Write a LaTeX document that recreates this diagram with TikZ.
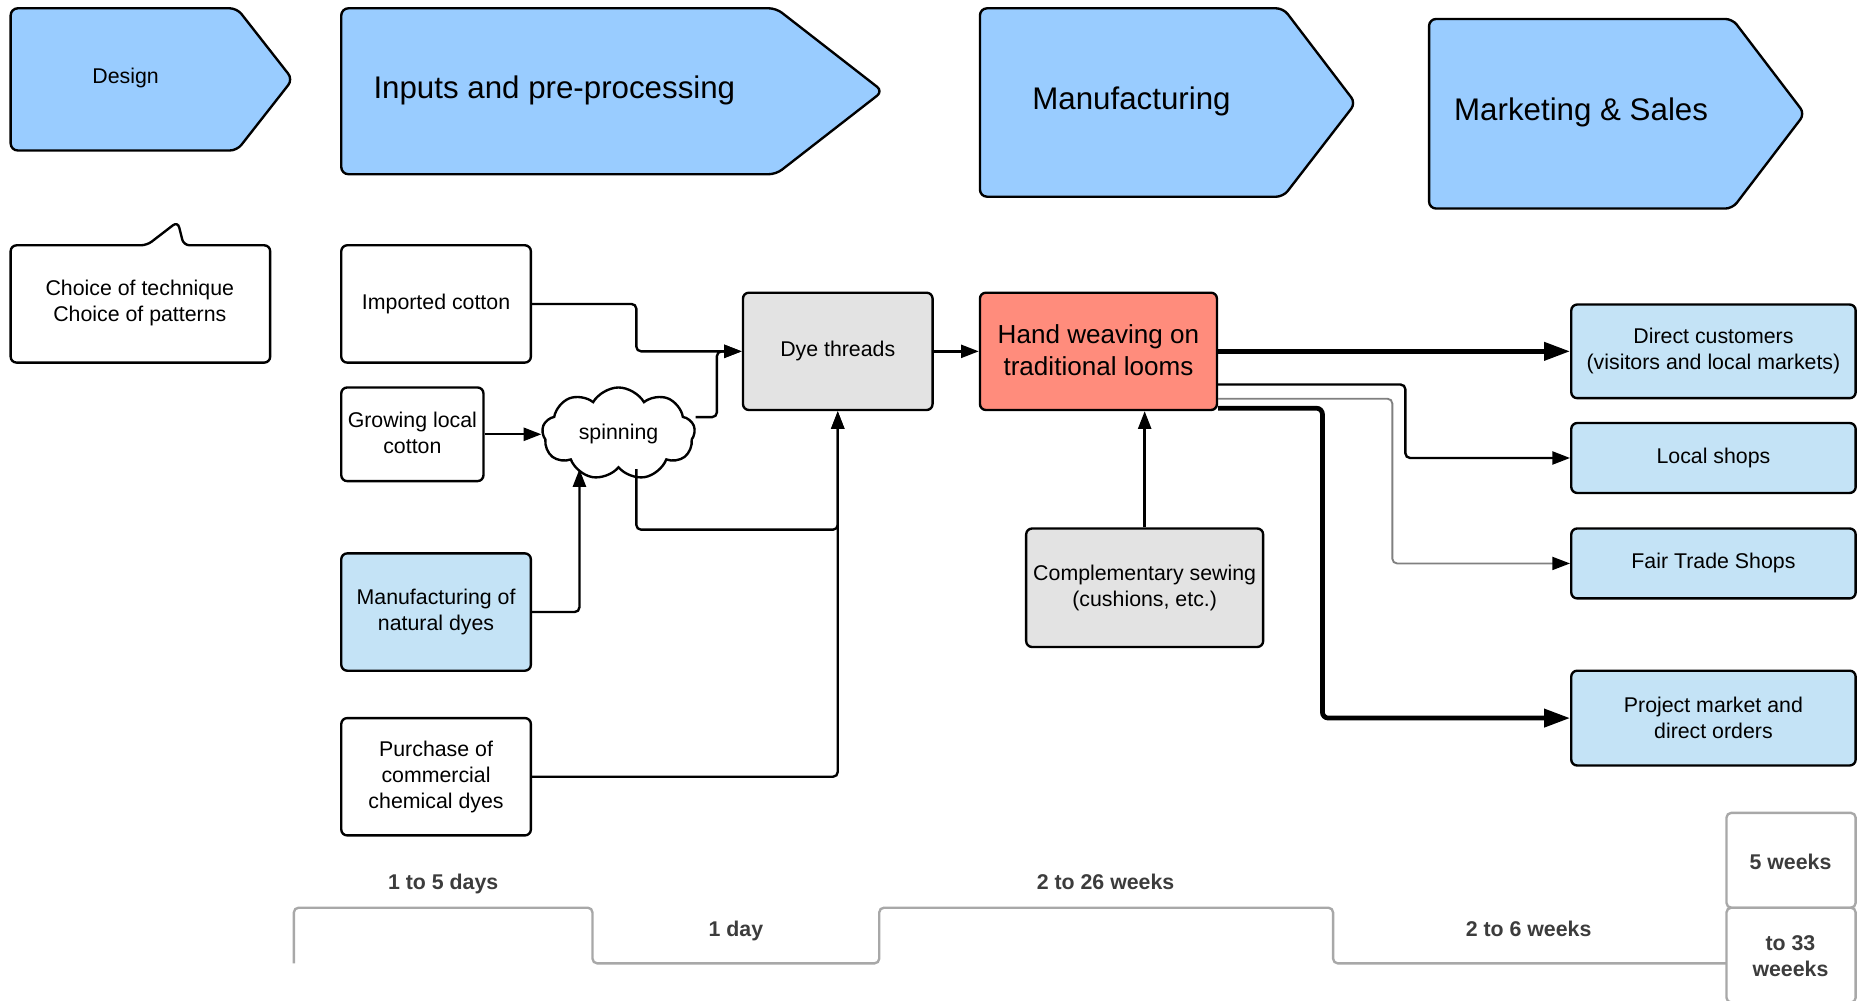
\documentclass[tikz,border=0pt]{standalone}
\usepackage{fontspec}
\setmainfont{Liberation Sans}
\usetikzlibrary{shapes.symbols,arrows.meta,calc}
\definecolor{hdr}{HTML}{99CCFF}
\definecolor{lblue}{HTML}{C4E3F6}
\definecolor{lgray}{HTML}{E3E3E3}
\definecolor{salmon}{HTML}{FF8C7C}
\definecolor{tl}{HTML}{A8A8A8}
\definecolor{tltext}{HTML}{3C3C3C}
\definecolor{midgray}{HTML}{808080}
\begin{document}
\begin{tikzpicture}[x=1pt,y=-1pt,
  body/.style={font=\fontsize{18}{22}\selectfont},
  big/.style={font=\fontsize{26.4}{30}\selectfont},
  box/.style={body, draw=black, line width=2pt, rounded corners=5pt, align=center, inner sep=0pt},
  hdrshape/.style={draw=black, fill=hdr, line width=2pt, rounded corners=6pt},
  conn/.style={line width=2pt, rounded corners=4pt, -{Triangle[length=15pt,width=11pt]}},
  thickconn/.style={line width=4pt, rounded corners=5pt, -{Triangle[length=22pt,width=15pt]}},
  grayconn/.style={line width=1.6pt, draw=midgray, rounded corners=4pt, -{Triangle[length=15pt,width=11pt,color=black]}},
  tlline/.style={draw=tl, line width=2pt, rounded corners=4pt},
  tllabel/.style={font=\fontsize{18}{22}\selectfont\bfseries, text=tltext, align=center},
]
\useasboundingbox (0,0) rectangle (1568,844);
\begin{scope}
\clip (0,0) rectangle (1568,844);

% header arrows
\draw[hdrshape] (9,7) -- (200,7) -- (247,67) -- (200,127) -- (9,127) -- cycle;
\node[body] (design) at (106,66) {Design};
\draw[hdrshape] (288,7) -- (655,7) -- (745,77) -- (655,147) -- (288,147) -- cycle;
\node[big, anchor=west, inner sep=0pt] (inputs) at (315,76) {Inputs and pre-processing};
\draw[hdrshape] (827,7) -- (1083,7) -- (1144,87) -- (1083,166) -- (827,166) -- cycle;
\node[big, anchor=west, inner sep=0pt] (manu) at (871,86) {Manufacturing};
\draw[hdrshape] (1206,16) -- (1462,16) -- (1523,96) -- (1462,176) -- (1206,176) -- cycle;
\node[big, anchor=west, inner sep=0pt] (mkt) at (1227,95) {Marketing \& Sales};

% callout
\draw[line width=2pt, fill=white, rounded corners=5pt] (9,207) -- (124,207) -- (150,187) -- (155,207) -- (228,207) -- (228,306) -- (9,306) -- cycle;
\node[body, align=center] (choice) at (118,256) {Choice of technique\\Choice of patterns};

% boxes
\node[box, minimum width=160pt, minimum height=99pt] (imp) at (368,256.5) {Imported cotton};
\node[box, minimum width=120pt, minimum height=79pt] (grow) at (348,366.5) {\raisebox{2pt}{Growing local}\\\raisebox{2pt}{cotton}};
\node[box, fill=lblue, minimum width=160pt, minimum height=99pt] (nat) at (368,516.5) {Manufacturing of\\natural dyes};
\node[box, fill=white, minimum width=160pt, minimum height=99pt] (pur) at (368,655.5) {Purchase of\\commercial\\chemical dyes};
\node[box, fill=lgray, minimum width=160pt, minimum height=99pt] (dye) at (707,296.5) {Dye threads};
\node[box, fill=salmon, minimum width=200pt, minimum height=99pt, font=\fontsize{22}{27}\selectfont] (hw) at (927,296.5) {\raisebox{3pt}{Hand weaving on}\\\raisebox{3pt}{traditional looms}};
\node[box, fill=lgray, minimum width=200pt, minimum height=100pt] (sew) at (966,496) {Complementary sewing\\(cushions, etc.)};
\node[box, fill=lblue, minimum width=240pt, minimum height=79pt] (dc) at (1446,296.5) {Direct customers\\(visitors and local markets)};
\node[box, fill=lblue, minimum width=240pt, minimum height=59pt] (ls) at (1446,386.5) {Local shops};
\node[box, fill=lblue, minimum width=240pt, minimum height=59pt] (ft) at (1446,475.5) {Fair Trade Shops};
\node[box, fill=lblue, minimum width=240pt, minimum height=80pt] (pm) at (1446,606) {Project market and\\direct orders};

\node[body, cloud, draw=black, fill=white, line width=2pt, cloud puffs=9, cloud puff arc=120, aspect=1.6, minimum width=129pt, minimum height=78pt, inner sep=0pt] (spin) at (522,366) {spinning};

% connectors
\coordinate (k1) at (537,280);
\coordinate (k2) at (605,320);
\coordinate (k3) at (620,447);
\coordinate (k4) at (1186,350);
\coordinate (k5) at (1175,400);
\coordinate (k6) at (1116,450);

\draw[conn] (imp.east) -| (k1) |- (dye.west);
\draw[conn] ([yshift=14pt]spin.east) -| (k2) |- (dye.west);
\draw[conn] (grow.east) -- (grow.east -| spin.west);
\draw[conn] (nat.east) -| ([xshift=-33pt]spin.south);
\draw[conn] ([xshift=15pt]spin.south) |- (k3) -| (dye.south);
\draw[conn] (pur.east) -| (dye.south);
\draw[conn] (dye.east) -- (hw.west);
\draw[conn] (sew.north) -- (sew.north |- hw.south);
\draw[thickconn] (hw.east) -- (dc.west);
\draw[conn] ([yshift=-28pt]hw.east) -| (k4) |- (ls.west);
\draw[grayconn] ([yshift=-40pt]hw.east) -| (k5) |- (ft.west);
\draw[thickconn] ([yshift=-48pt]hw.east) -| (k6) |- (pm.west);

% timeline
\draw[tlline] (248,813) -- (248,766) -- (500,766) -- (500,813) -- (742,813) -- (742,766) -- (1125,766) -- (1125,813) -- (1457,813);
\draw[tlline] (1457,766) rectangle (1566,686);
\draw[tlline] (1457,766) rectangle (1566,846);
\node[tllabel] (t1) at (374,746) {1 to 5 days};
\node[tllabel] (t2) at (621,786) {1 day};
\node[tllabel] (t3) at (933,744) {2 to 26 weeks};
\node[tllabel] (t4) at (1290,784) {2 to 6 weeks};
\node[tllabel] (t5) at (1511,727) {5 weeks};
\node[tllabel] (t6) at (1511,807) {to 33\\weeeks};
\end{scope}
\end{tikzpicture}
\end{document}
